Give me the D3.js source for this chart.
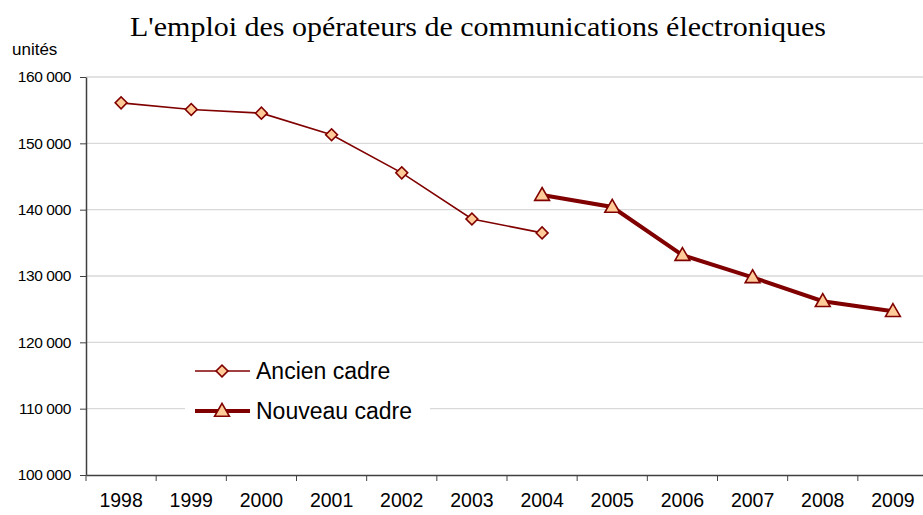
<!DOCTYPE html>
<html>
<head>
<meta charset="utf-8">
<script src="https://cdn.jsdelivr.net/npm/d3@7"></script>
<style>
  body { margin: 0; background: #fff; }
  text { font-family: "Liberation Sans", Arial, sans-serif; }
</style>
</head>
<body>
<div id="chart"></div>
<script>
// data
var years = ["1998", "1999", "2000", "2001", "2002", "2003", "2004", "2005", "2006", "2007", "2008", "2009"];
var ancienYears = ["1998", "1999", "2000", "2001", "2002", "2003", "2004"];
var ancienValues = [156100, 155100, 154550, 151300, 145550, 138600, 136500];
var nouveauYears = ["2004", "2005", "2006", "2007", "2008", "2009"];
var nouveauValues = [142200, 140400, 133150, 129800, 126200, 124700];
var yTicks = [100000, 110000, 120000, 130000, 140000, 150000, 160000];

var W = 923, H = 515;
var margin = {top: 77, left: 86, bottom: 40};
var plotW = 842, plotH = 398;

var svg = d3.select("#chart").append("svg")
  .attr("width", W).attr("height", H);

var x = d3.scaleBand().domain(years).range([margin.left, margin.left + plotW]);
var y = d3.scaleLinear().domain([100000, 160000]).range([margin.top + plotH, margin.top]);

var fmt = function(d) { return d3.format(",")(d).replace(",", " "); };

// gridlines
svg.append("g")
  .selectAll("line")
  .data(yTicks.slice(1))
  .join("line")
    .attr("x1", margin.left).attr("x2", W)
    .attr("y1", d => y(d)).attr("y2", d => y(d))
    .attr("stroke", "#d9d9d9").attr("stroke-width", 1.3);

// y axis
var yAxis = svg.append("g")
  .attr("transform", "translate(" + margin.left + ",0)")
  .call(d3.axisLeft(y).tickValues(yTicks).tickFormat(fmt).tickSize(6).tickSizeOuter(0));
yAxis.select(".domain").attr("stroke", "#404040").attr("stroke-width", 1.5);
yAxis.selectAll(".tick line").attr("stroke", "#404040");
yAxis.selectAll("text")
  .attr("x", -15)
  .attr("fill", "#000")
  .style("font-size", "15.5px")
  .style("letter-spacing", "-0.4px")
  .style("font-family", "'Liberation Sans', Arial, sans-serif");

// x axis
var xAxis = svg.append("g")
  .attr("transform", "translate(0," + (margin.top + plotH) + ")")
  .call(d3.axisBottom(x).tickSize(0).tickSizeOuter(0));
xAxis.select(".domain").attr("stroke", "#404040").attr("stroke-width", 1.5);
xAxis.selectAll("text")
  .attr("y", 18)
  .attr("dy", "0.71em")
  .attr("fill", "#000")
  .style("font-size", "19.5px")
  .style("font-family", "'Liberation Sans', Arial, sans-serif");
// ticks between categories
xAxis.selectAll(".sep")
  .data(years)
  .join("line")
    .attr("class", "sep")
    .attr("x1", d => x(d)).attr("x2", d => x(d))
    .attr("y1", 0).attr("y2", 6)
    .attr("stroke", "#404040").attr("stroke-width", 1);

// title
svg.append("text")
  .attr("x", 478).attr("y", 36)
  .attr("text-anchor", "middle")
  .attr("textLength", 696)
  .attr("lengthAdjust", "spacingAndGlyphs")
  .style("font-family", "'Liberation Serif', 'Times New Roman', serif")
  .style("font-size", "28px")
  .text("L'emploi des opérateurs de communications électroniques");

svg.append("text")
  .attr("x", 12).attr("y", 55)
  .style("font-size", "17px")
  .text("unités");

var line = d3.line()
  .x(d => x(d[0]) + x.bandwidth() / 2)
  .y(d => y(d[1]));

var ancien = ancienYears.map((d, i) => [d, ancienValues[i]]);
var nouveau = nouveauYears.map((d, i) => [d, nouveauValues[i]]);

var maroon = "#800000", peach = "#ffcc99";

svg.append("path").datum(ancien)
  .attr("d", line).attr("fill", "none")
  .attr("stroke", maroon).attr("stroke-width", 1.6);

svg.append("path").datum(nouveau)
  .attr("d", line).attr("fill", "none")
  .attr("stroke", maroon).attr("stroke-width", 4);

var diamond = d3.symbol().type(d3.symbolSquare).size(70);
var triangle = d3.symbol().type(d3.symbolTriangle).size(95);

svg.append("g").selectAll("path")
  .data(ancien)
  .join("path")
    .attr("d", diamond)
    .attr("transform", d => "translate(" + (x(d[0]) + x.bandwidth() / 2) + "," + y(d[1]) + ") rotate(45)")
    .attr("fill", peach).attr("stroke", maroon).attr("stroke-width", 1.6);

svg.append("g").selectAll("path")
  .data(nouveau)
  .join("path")
    .attr("d", triangle)
    .attr("transform", d => "translate(" + (x(d[0]) + x.bandwidth() / 2) + "," + (y(d[1]) + 1) + ")")
    .attr("fill", peach).attr("stroke", maroon).attr("stroke-width", 1.6);

// legend
var legend = svg.append("g");
legend.append("rect")
  .attr("x", 185).attr("y", 352).attr("width", 245).attr("height", 72)
  .attr("fill", "#fff");

var lg1 = legend.append("g").attr("transform", "translate(0,371)");
lg1.append("line").attr("x1", 195).attr("x2", 250).attr("stroke", maroon).attr("stroke-width", 1.6);
lg1.append("path").attr("d", diamond).attr("transform", "translate(222,0) rotate(45)")
  .attr("fill", peach).attr("stroke", maroon).attr("stroke-width", 1.6);
lg1.append("text").attr("x", 256).attr("y", 8).style("font-size", "23px").text("Ancien cadre");

var lg2 = legend.append("g").attr("transform", "translate(0,411)");
lg2.append("line").attr("x1", 195).attr("x2", 250).attr("stroke", maroon).attr("stroke-width", 4);
lg2.append("path").attr("d", triangle).attr("transform", "translate(222,1)")
  .attr("fill", peach).attr("stroke", maroon).attr("stroke-width", 1.6);
lg2.append("text").attr("x", 256).attr("y", 8).style("font-size", "23px").text("Nouveau cadre");
</script>
</body>
</html>
